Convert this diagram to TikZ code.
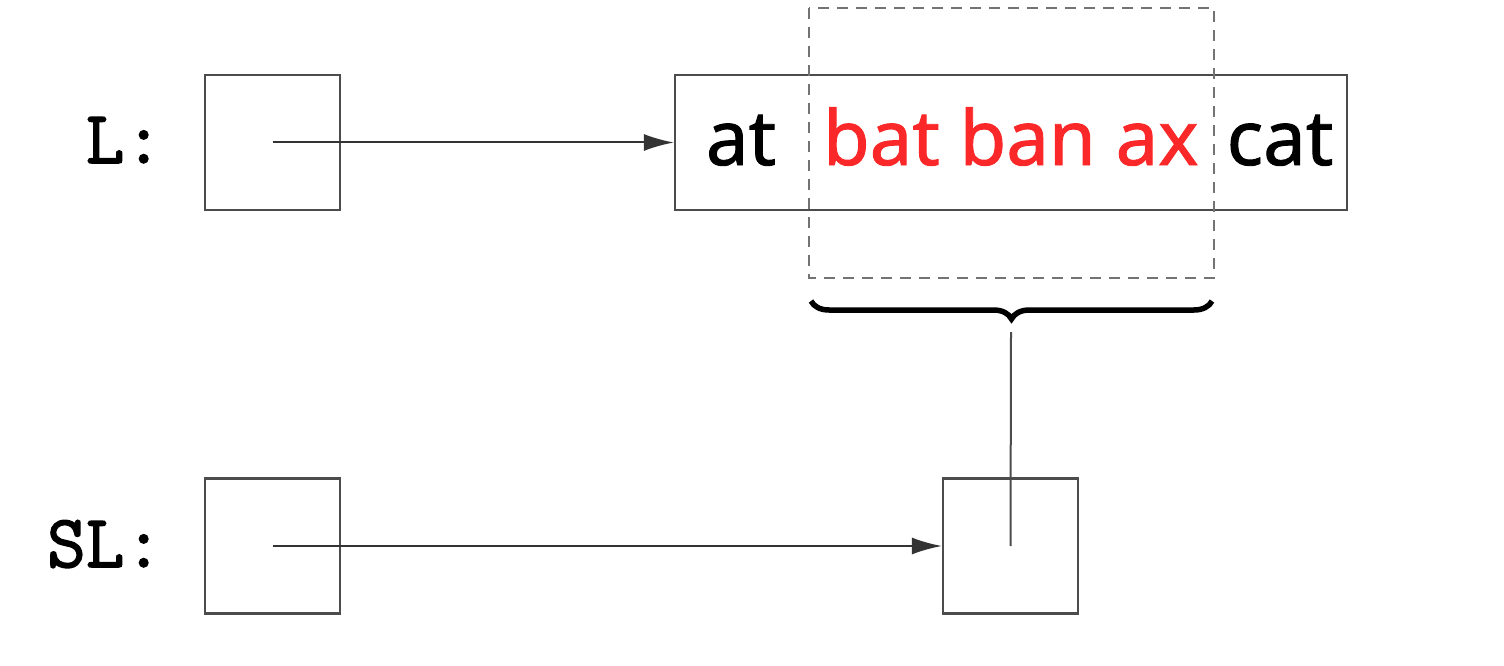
\documentclass[tikz,border=0pt]{standalone}
\usepackage{fontspec}
\usepackage{tikz}
\usetikzlibrary{arrows.meta,decorations.pathreplacing}
\newfontfamily\wordfont{Noto Sans}[FakeBold=1.2]
\newfontfamily\lblfont{Latin Modern Mono}[FakeBold=2]
\definecolor{wordred}{RGB}{250,40,40}
\tikzstyle{es} = [-{Latex[length=30pt,width=17pt]}]
\tikzstyle{cell} = [draw=black!70, line width=2.2pt, minimum size=135pt, inner sep=0pt]
\tikzstyle{word} = [inner sep=0pt, font=\wordfont\fontsize{76}{90}\selectfont]
\tikzstyle{lbl} = [inner sep=0pt, font=\lblfont\fontsize{75}{90}\selectfont]

\begin{document}
\begin{tikzpicture}[yscale=-1,line width=2pt]
			\useasboundingbox (0pt,0pt) rectangle (1504pt,666pt);
			\node (Lcell) at (272.5pt,142.5pt)[cell]{};
			\node (SLcell) at (272.5pt,546pt)[cell]{};
			\node (target) at (1010.5pt,546pt)[cell]{};
			\node (list) at (1011pt,142.5pt)[draw=black!70, line width=2.2pt, minimum width=672pt, minimum height=135pt, inner sep=0pt]{};
			\node (Llbl) at (164pt,163pt)[lbl, anchor=base east]{L:};
			\node (SLlbl) at (164pt,567pt)[lbl, anchor=base east]{SL:};
			\node (at) at (741pt,165pt)[word, anchor=base]{at};
			\node (mid) at (822pt,165pt)[word, anchor=base west, text=wordred]{bat ban ax};
			\node (cat) at (1280pt,165pt)[word, anchor=base]{cat};
			\draw[dash pattern=on 11pt off 8pt, draw=black!55, line width=2.2pt] (809pt,8pt) rectangle (1214pt,278pt);
			\draw[decorate, decoration={brace, mirror, amplitude=18pt}, line width=5.5pt] (811pt,301pt) -- (1212pt,301pt);
			\coordinate (tip) at (1011pt,332pt);
			\draw[es, draw=black!80] (Lcell.center) -- (list.west);
			\draw[es, draw=black!80] (SLcell.center) -- (target.west);
			\draw[draw=black!70] (tip) -- (target.center);
		\end{tikzpicture}
\end{document}
